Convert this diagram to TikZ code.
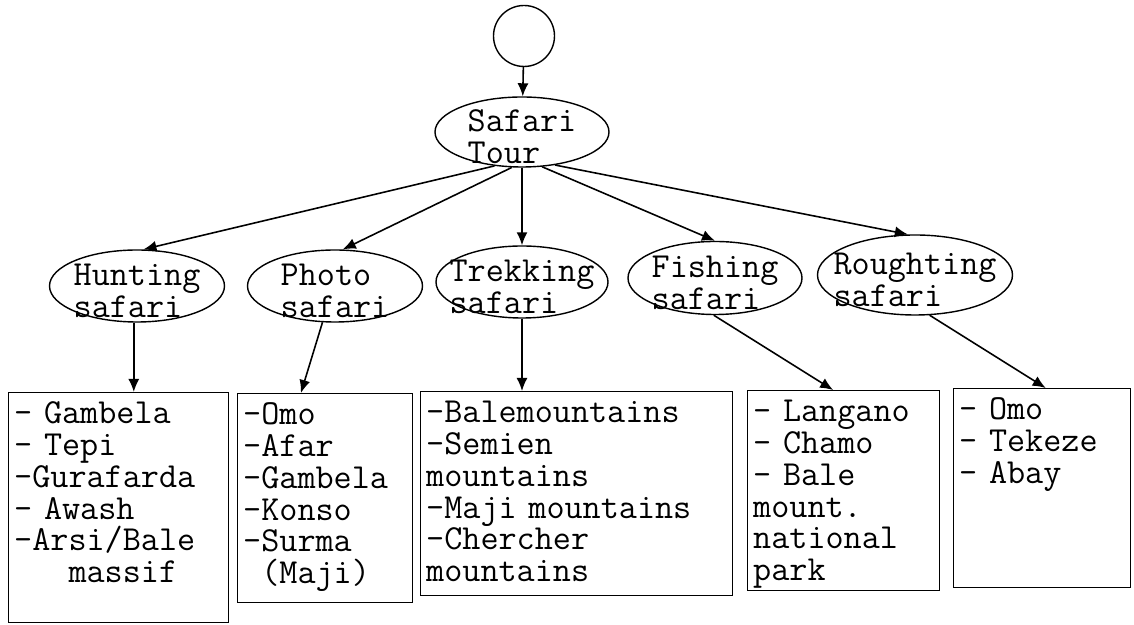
\documentclass[tikz,border=0pt]{standalone}
\usepackage{fontspec}
\usetikzlibrary{shapes.geometric, arrows.meta}

\newcommand{\ovaltext}[2]{\makebox[0pt]{\begin{tabular}[t]{@{}l@{}}#1\\#2\end{tabular}}}

\tikzset{
  topic/.style={draw, ellipse, inner sep=0pt, text height=0pt, text depth=0pt, line width=0.8pt},
  listbox/.style={draw, rectangle, anchor=north west, align=left, inner xsep=0.11cm, inner ysep=0.12cm, text height=0.5cm, line width=0.8pt}
}

\begin{document}
\begin{tikzpicture}[font=\ttfamily\fontsize{20}{18.1}\selectfont, >={Latex[length=2.6mm,width=2.2mm]}, line width=0.9pt]
    \useasboundingbox (0,0) rectangle (22.68,12.5);

    \node (circ) [draw, circle, minimum size=1.22cm, line width=0.8pt] at (10.48,11.78) {};
    \node (tour) [topic, minimum width=3.48cm, minimum height=1.40cm] at (10.44,9.86) {\ovaltext{Safari}{Tour}};

    \node (hunt) [topic, minimum width=3.5cm, minimum height=1.44cm] at (2.74,6.78) {\ovaltext{Hunting}{safari}};
    \node (photo) [topic, minimum width=3.5cm, minimum height=1.44cm] at (6.70,6.78) {\ovaltext{Photo}{safari}};
    \node (trek) [topic, minimum width=3.44cm, minimum height=1.44cm] at (10.44,6.86) {\ovaltext{Trekking}{safari}};
    \node (fish) [topic, minimum width=3.48cm, minimum height=1.46cm] at (14.30,6.94) {\ovaltext{Fishing}{safari}};
    \node (rough) [topic, minimum width=3.9cm, minimum height=1.6cm] at (18.30,7.00) {\ovaltext{Roughting}{safari}};

    \node (box1) [listbox, text width=4.18cm, text depth=3.86cm] at (0.16,4.66) {- Gambela\\- Tepi\\-Gurafarda\\- Awash\\-Arsi/Bale\\\phantom{xxx}massif};
    \node (box2) [listbox, text width=3.28cm, text depth=3.44cm] at (4.74,4.64) {-Omo\\-Afar\\-Gambela\\-Konso\\-Surma\\\phantom{x}(Maji)};
    \node (box3) [listbox, text width=6.02cm, text depth=3.34cm] at (8.40,4.68) {-Balemountains\\-Semien\\mountains\\-Maji mountains\\-Chercher\\mountains};
    \node (box4) [listbox, text width=3.62cm, text depth=3.26cm] at (14.94,4.70) {- Langano\\- Chamo\\- Bale\\mount.\\national\\park};
    \node (box5) [listbox, text width=3.32cm, text depth=3.24cm] at (19.06,4.74) {- Omo\\- Tekeze\\- Abay};

    \draw[->] (circ) -- (tour);
    \draw[->] (tour.231) -- (hunt.80);
    \draw[->] (tour.254) -- (photo.78);
    \draw[->] (tour.south) -- (trek.north);
    \draw[->] (tour.300) -- (fish.north);
    \draw[->] (tour.315) -- (rough.100);

    \draw[->] (hunt.265) -- (hunt.265 |- box1.north);
    \draw[->] (photo.251) -- (box2.103);
    \draw[->] (trek.south) -- (trek.south |- box3.north);
    \draw[->] (fish.268) -- (box4.96);
    \draw[->] (rough.290) -- (box5.88);
\end{tikzpicture}
\end{document}
